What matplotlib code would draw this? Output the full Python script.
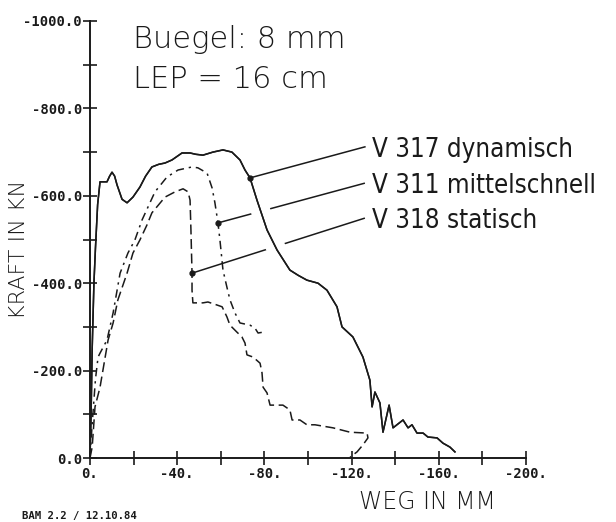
import matplotlib
matplotlib.use('Agg')
import matplotlib.pyplot as plt
import matplotlib.patheffects as pe
from matplotlib.ticker import MultipleLocator, FuncFormatter
from matplotlib.font_manager import FontProperties

# ---------------- data (Weg in mm, Kraft in kN) ----------------
v317_x = [0, -0.5, -1.0, -1.8, -2.5, -3.5, -4.6, -6.0, -7.8, -9.0, -10.1, -11.3, -12.4,
          -14.7, -17.0, -19.7, -22.9, -25.5, -28.4, -31.5, -34.4, -37.6, -42.2, -45.9,
          -48.5, -51.8, -56.4, -61.0, -65.1, -68.8, -71.1, -73.4, -76.6, -81.2, -85.8,
          -91.7, -95.5, -99.5, -104.6, -108.7, -113.3, -115.6, -120.6, -125.2, -128.4,
          -129.4, -130.7, -133.0, -134.4, -137.2, -139.0, -143.6, -145.9, -147.7, -150.0,
          -152.8, -155.0, -159.2, -161.9, -165.1, -167.4]
v317_y = [0, -100, -250, -400, -480, -580, -632, -632, -632, -645, -654, -645, -625,
          -592, -584, -597, -620, -645, -666, -672, -675, -682, -698, -698,
          -695, -693, -700, -705, -700, -682, -659, -641, -590, -522, -476,
          -430, -418, -407, -400, -384, -346, -300, -277, -231, -178,
          -117, -151, -126, -59, -121, -69, -87, -69, -76, -57,
          -57, -48, -46, -34, -25, -14]

v311_x = [0, -0.9, -2.5, -3.7, -4.6, -7.8, -10.6, -13.8, -17.4, -20.6, -23.9, -29.8,
          -35.3, -40.4, -46.8, -49.5, -53.7, -56.0, -57.3, -58.7, -59.6, -61.0, -62.8,
          -64.2, -66.5, -68.8, -73.4, -75.7, -77.1, -79.4]
v311_y = [0, -71, -180, -231, -240, -270, -332, -423, -469, -499, -545, -609,
          -643, -659, -666, -664, -652, -618, -584, -538, -499, -430, -391,
          -362, -332, -309, -304, -297, -286, -288]

v318_x = [0, -1.0, -2.3, -4.6, -8.3, -10.6, -12.8, -17.0, -19.7, -22.9, -26.1, -28.4,
          -34.4, -39.0, -42.7, -45.0, -45.9, -46.3, -46.8, -46.8, -47.2, -51.8, -54.1,
          -58.3, -60.6, -62.8, -64.2, -67.4, -69.7, -71.1, -72.0, -74.8, -78.0, -78.9,
          -79.4, -81.2, -82.6, -88.5, -91.7, -92.7, -96.3, -99.5, -103.2, -111.5,
          -119.3, -127.1, -127.5, -125.2, -122.5, -119.3]
v318_y = [0, -25, -117, -162, -270, -309, -362, -423, -469, -499, -533, -561,
          -597, -609, -616, -609, -590, -522, -423, -384, -355, -355, -357,
          -350, -346, -323, -304, -288, -277, -263, -236, -231, -217, -195,
          -162, -149, -121, -121, -110, -87, -87, -76, -76, -69,
          -59, -57, -46, -30, -14, -2]

series_names = ["V 317 dynamisch", "V 311 mittelschnell", "V 318 statisch"]
marker_x = [-73.4, -58.7, -46.8]
marker_y = [-641, -538, -423]

# ---------------- layout ----------------
W, H = 616, 522
fig = plt.figure(figsize=(W / 100, H / 100), dpi=100)
fig.patch.set_facecolor('white')
ax = fig.add_axes([90 / W, 1 - 458 / H, 436 / W, 437 / H])
ax.set_xlim(0, -200)
ax.set_ylim(0, -1000)
ax.set_axisbelow(False)

ink = '#1a1a1a'
lw = 1.1

for s in ('top', 'right'):
    ax.spines[s].set_visible(False)
for s in ('left', 'bottom'):
    ax.spines[s].set_linewidth(1.4)
    ax.spines[s].set_color(ink)

ax.xaxis.set_major_locator(MultipleLocator(40))
ax.xaxis.set_minor_locator(MultipleLocator(20))
ax.yaxis.set_major_locator(MultipleLocator(200))
ax.yaxis.set_minor_locator(MultipleLocator(100))
ax.xaxis.set_major_formatter(FuncFormatter(lambda v, p: "0." if abs(v) < 1e-9 else f"{v:.0f}."))
ax.yaxis.set_major_formatter(FuncFormatter(lambda v, p: "0.0" if abs(v) < 1e-9 else f"{v:.1f}"))
ax.tick_params(which='both', direction='inout', length=10, width=1.2, color=ink)
ax.tick_params(axis='y', which='major', pad=0.8)
ax.tick_params(axis='x', which='major', pad=1.5)
tick_fp = FontProperties(family='DejaVu Sans Mono', weight='bold', size=10)
for lab in ax.get_xticklabels() + ax.get_yticklabels():
    lab.set_fontproperties(tick_fp)
    lab.set_color(ink)

# leader lines (under the solid curve so it cuts a gap)
label_x = -126.1
label_y = [-712, -629, -549]
for i in (1, 2):
    ax.plot([marker_x[i], label_x], [marker_y[i], label_y[i]], color=ink, lw=lw,
            zorder=1, solid_capstyle='butt')

ax.plot(v317_x, v317_y, color=ink, lw=lw, zorder=2,
        path_effects=[pe.withStroke(linewidth=14, foreground='white'), pe.Normal()])
ax.plot(v311_x, v311_y, color=ink, lw=lw, zorder=3, dashes=(5.5, 3.2, 1.5, 3.2))
ax.plot(v318_x, v318_y, color=ink, lw=lw, zorder=3, dashes=(6.5, 3))

ax.plot([marker_x[0], label_x], [marker_y[0], label_y[0]], color=ink, lw=lw, zorder=3)
ax.plot(marker_x, marker_y, 'o', color=ink, ms=3.5, zorder=4)

lab_font = dict(family='DejaVu Sans', stretch='condensed', size=18.5, color=ink)
for name, ly in zip(series_names, label_y):
    ax.annotate(name, xy=(label_x, ly), xytext=(5, -7), textcoords='offset points',
                ha='left', va='baseline', annotation_clip=False, **lab_font)

title_font = dict(family='DejaVu Sans', weight='light', size=22, color=ink)
fig.text(133 / W, 1 - 48 / H, "Buegel: 8 mm", ha='left', va='baseline', **title_font)
fig.text(133 / W, 1 - 88 / H, "LEP = 16 cm", ha='left', va='baseline', **title_font)

axis_font = dict(family='DejaVu Sans', weight='light', color=ink)
fig.text(19 / W, 1 - 249 / H, "KRAFT IN KN", rotation=90, ha='center', va='center',
         size=16, **axis_font)
fig.text(427 / W, 1 - 502 / H, "WEG IN MM", ha='center', va='center', size=17, **axis_font)

fig.text(22 / W, 1 - 516 / H, "BAM 2.2 / 12.10.84", ha='left', va='center',
         family='DejaVu Sans Mono', weight='bold', size=7.7, color=ink)

fig.savefig('out.png', dpi=100, facecolor='white')
